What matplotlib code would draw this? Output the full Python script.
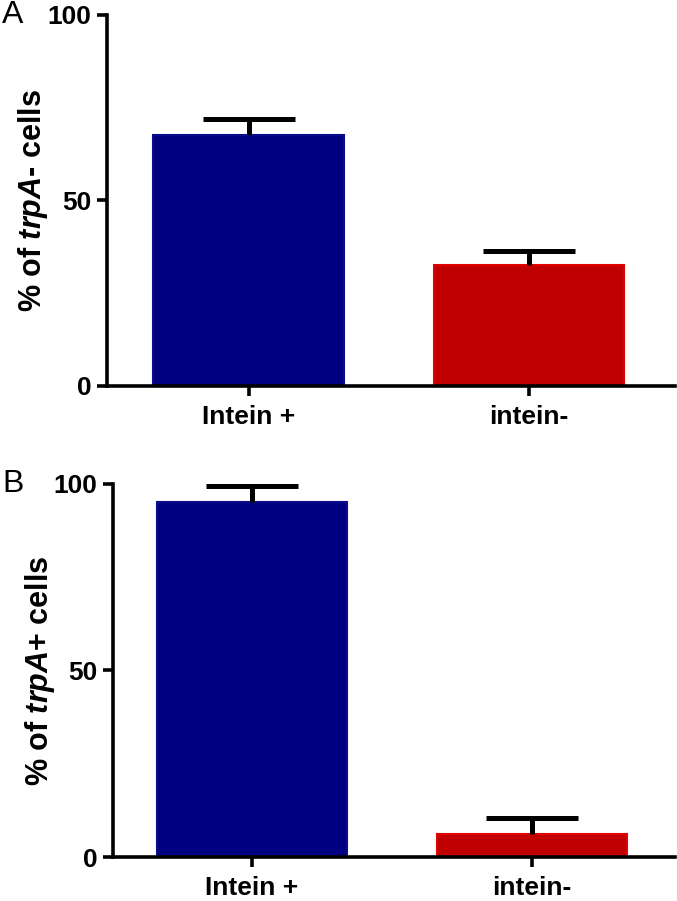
import matplotlib
matplotlib.use("Agg")
import matplotlib.pyplot as plt

plt.rcParams['font.family'] = ['Liberation Sans', 'DejaVu Sans']
plt.rcParams['mathtext.fontset'] = 'custom'
plt.rcParams['mathtext.rm'] = 'Liberation Sans:bold'
plt.rcParams['mathtext.it'] = 'Liberation Sans:bold:italic'

# data
groups = ['Intein +', 'intein-']
trpA_minus = [67.7, 32.5]
trpA_minus_err = [4.1, 3.9]
trpA_plus = [95.2, 6.2]
trpA_plus_err = [4.3, 4.3]
yticks = [0, 50, 100]

fill_colors = ['#000080', '#c00000']
edge_colors = ['#0a0a8c', '#e00000']

fig = plt.figure(figsize=(6.77, 9.01), dpi=100)
ax_a = fig.add_axes([0.158, 0.5716, 0.839, 0.412])
ax_b = fig.add_axes([0.1669, 0.0488, 0.830, 0.4142])


def draw_panel(ax, values, errs, ylabel, letter, xlim):
    x = range(len(groups))
    ax.bar(x, values, width=0.68, color=fill_colors, edgecolor=edge_colors,
           linewidth=1.5, zorder=2)
    # upper error only, like the original
    _, caps, _ = ax.errorbar(x, values, yerr=[[0] * len(errs), errs], fmt='none',
                             ecolor='black', elinewidth=3.6, capsize=33,
                             capthick=3.6, zorder=3, clip_on=False)
    caps[0].set_visible(False)
    ax.set_xlim(*xlim)
    ax.set_ylim(0, 100)
    ax.set_yticks(yticks)
    ax.set_xticks(list(x))
    ax.set_xticklabels(groups, fontsize=19, fontweight='bold')
    for lab in ax.get_yticklabels():
        lab.set_fontsize(19)
        lab.set_fontweight('bold')
    ax.spines['top'].set_visible(False)
    ax.spines['right'].set_visible(False)
    for s in ['left', 'bottom']:
        ax.spines[s].set_linewidth(2.6)
    ax.tick_params(axis='both', width=2.6, length=7)
    ax.tick_params(axis='x', pad=7)
    ax.tick_params(axis='y', pad=4)
    ax.set_ylabel(ylabel, fontsize=22, fontweight='bold')
    ax.yaxis.set_label_coords(-0.10, 0.5)
    ax.text(-0.185, 1.0, letter, transform=ax.transAxes, fontsize=23,
            ha='left', va='center')


draw_panel(ax_a, trpA_minus, trpA_minus_err, '% of $\\mathit{trpA}$- cells',
           'A', (-0.505, 1.52))
draw_panel(ax_b, trpA_plus, trpA_plus_err, '% of $\\mathit{trpA}$+ cells',
           'B', (-0.496, 1.51))
ax_b.texts[0].set_x(-0.196)

fig.savefig('out.png', dpi=100)
